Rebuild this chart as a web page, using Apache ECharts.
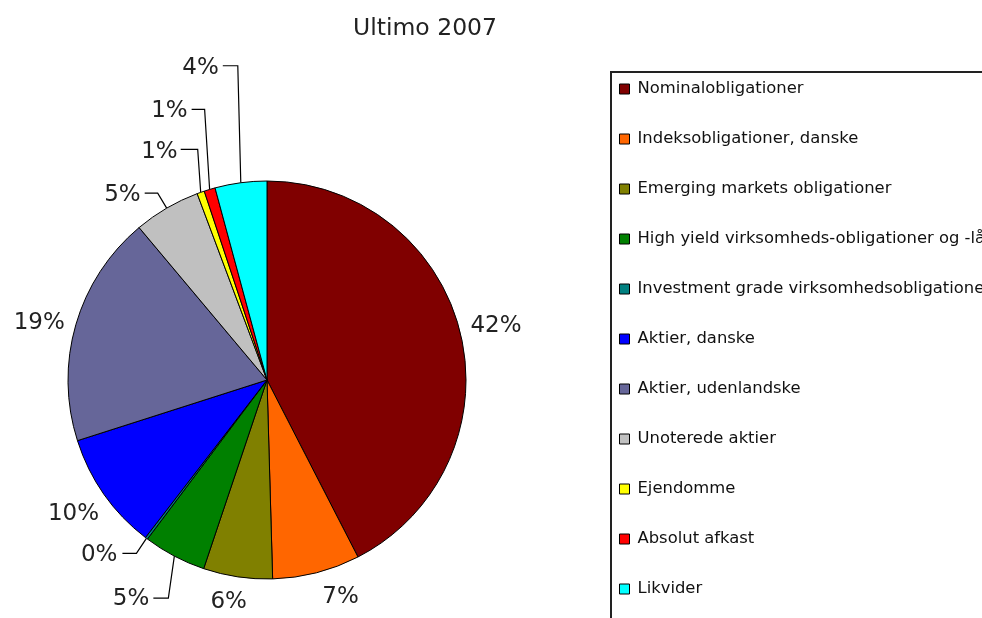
<!DOCTYPE html>
<html>
<head>
<meta charset="utf-8">
<script src="https://cdn.jsdelivr.net/npm/echarts@6/dist/echarts.min.js"></script>
<style>
  html, body { margin: 0; padding: 0; background: #fff; }
  #main { width: 982px; height: 618px; }
</style>
</head>
<body>
<div id="main"></div>
<script>
// data
const categories = ['Nominalobligationer', 'Indeksobligationer, danske', 'Emerging markets obligationer',
  'High yield virksomheds-obligationer og -lån', 'Investment grade virksomhedsobligationer',
  'Aktier, danske', 'Aktier, udenlandske', 'Unoterede aktier', 'Ejendomme', 'Absolut afkast', 'Likvider']
const values = [42.4, 7.1, 5.6, 5.1, 0.2, 9.6, 18.8, 5.4, 0.6, 0.9, 4.2]
const colors = ['#800000', '#FF6600', '#808000', '#008000', '#008080', '#0000FF',
  '#666699', '#C0C0C0', '#FFFF00', '#FF0000', '#00FFFF']

// label placement, offsets from the slice's outer edge point (Excel style)
// t: text offset, a: align, c: leader corner offset, e: leader end offset
const labelSpots = [
  {t: [10, -7], a: 'left'},
  {t: [24, 24], a: 'center'},
  {t: [-9, 25], a: 'center'},
  {t: [-25, 43], a: 'right', c: [-6, 42], e: [-21, 42]},
  {t: [-29, 17], a: 'right', c: [-10, 15], e: [-24, 15]},
  {t: [-5, 20], a: 'right'},
  {t: [-11, -2], a: 'right'},
  {t: [-26, -13], a: 'right', c: [-9, -15], e: [-22, -15]},
  {t: [-23, -40], a: 'right', c: [-3, -43], e: [-20, -43]},
  {t: [-22, -78], a: 'right', c: [-5, -80], e: [-18, -80]},
  {t: [-22, -115], a: 'right', c: [-3, -117], e: [-18, -117]}
]

let chart = echarts.init(document.getElementById('main'))
const seriesData = []
for (let i = 0; i < categories.length; i++) {
  seriesData.push({
    name: categories[i],
    value: values[i],
    itemStyle: { color: colors[i] },
    labelLine: { show: !!labelSpots[i].c }
  })
}

function edgePoint(idx) {
  const lay = chart.getModel().getSeriesByIndex(0).getData().getItemLayout(idx)
  const mid = (lay.startAngle + lay.endAngle) / 2
  return [lay.cx + lay.r * Math.cos(mid), lay.cy + lay.r * Math.sin(mid)]
}

const option = {
  animation: false,
  title: {
    text: 'Ultimo 2007',
    left: 420,
    top: 12,
    textAlign: 'center',
    textStyle: { fontFamily: 'DejaVu Sans', fontSize: 23.5, fontWeight: 'normal', color: '#222' }
  },
  legend: {
    orient: 'vertical',
    left: 614,
    top: 74,
    icon: 'rect',
    itemWidth: 10,
    itemHeight: 10,
    itemGap: 30,
    itemStyle: { borderColor: '#000', borderWidth: 1 },
    selectedMode: false,
    textStyle: { fontFamily: 'DejaVu Sans', fontSize: 16.4, lineHeight: 20, color: '#111', padding: [0, 0, 0, 3] },
    data: categories
  },
  graphic: [{
    type: 'rect',
    shape: { x: 611, y: 72, width: 500, height: 600 },
    style: { fill: 'none', stroke: '#222', lineWidth: 2 },
    z: 0
  }],
  series: [{
    type: 'pie',
    center: [267, 380],
    radius: 199,
    startAngle: 90,
    clockwise: true,
    avoidLabelOverlap: false,
    itemStyle: { borderColor: '#000', borderWidth: 1 },
    label: {
      show: true,
      position: 'outside',
      fontFamily: 'DejaVu Sans',
      fontSize: 23,
      color: '#222',
      overflow: 'none',
      formatter: function(p) { return Math.round(p.percent) + '%' }
    },
    labelLine: {
      show: true,
      lineStyle: { color: '#000', width: 1.2 }
    },
    labelLayout: function(params) {
      const i = params.dataIndex
      const s = labelSpots[i]
      const p = edgePoint(i)
      const out = {
        x: p[0] + s.t[0],
        y: p[1] + s.t[1],
        align: s.a,
        verticalAlign: 'middle'
      }
      if (s.c) {
        out.labelLinePoints = [
          [p[0], p[1]],
          [p[0] + s.c[0], p[1] + s.c[1]],
          [p[0] + s.e[0], p[1] + s.e[1]]
        ]
      }
      return out
    },
    data: seriesData
  }]
}
chart.setOption(option)
</script>
</body>
</html>
